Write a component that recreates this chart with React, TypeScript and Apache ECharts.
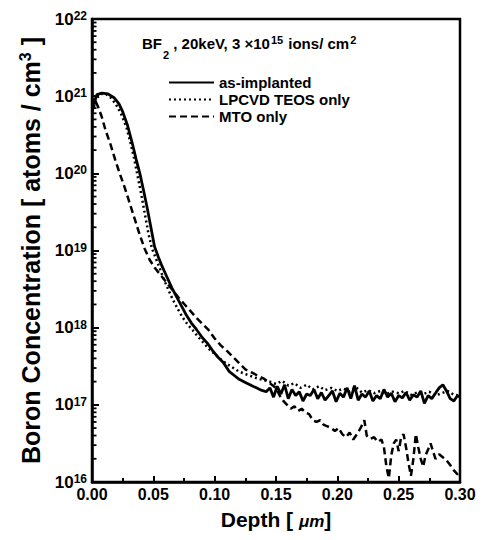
import React, { useEffect, useRef } from "react";
import * as echarts from "echarts";

// ---- data (depth in µm, concentration as log10(atoms/cm^3)) ----
const asImplantedDepth = [
  0, 0.004, 0.008, 0.013, 0.018, 0.022, 0.025, 0.029, 0.033, 0.036, 0.039, 0.042, 0.045, 0.048, 0.051, 0.054,
  0.057, 0.061, 0.065, 0.069, 0.073, 0.077, 0.081, 0.085, 0.09, 0.094, 0.098, 0.102, 0.107, 0.112, 0.116, 0.12,
  0.125, 0.13, 0.134, 0.138, 0.142,
  0.145, 0.148, 0.151, 0.154, 0.157, 0.16, 0.163, 0.166, 0.169, 0.172, 0.175, 0.178, 0.181, 0.184, 0.187, 0.19,
  0.193, 0.196, 0.199, 0.202, 0.205, 0.208, 0.211, 0.214, 0.217, 0.22, 0.223, 0.226, 0.229, 0.232, 0.235, 0.238,
  0.241, 0.244, 0.247, 0.25, 0.253, 0.256, 0.259, 0.262, 0.265, 0.268, 0.271, 0.274, 0.277, 0.28, 0.283, 0.286,
  0.289, 0.292, 0.295, 0.298, 0.3,
];
const asImplantedLogC = [
  20.85, 21.02, 21.04, 21.03, 20.98, 20.9, 20.8, 20.62, 20.38, 20.18, 20.0, 19.78, 19.55, 19.3, 19.05, 18.92,
  18.8, 18.66, 18.52, 18.4, 18.28, 18.16, 18.06, 17.98, 17.87, 17.8, 17.71, 17.63, 17.55, 17.43, 17.38, 17.33,
  17.29, 17.25, 17.22, 17.19, 17.17,
  17.22, 17.1, 17.24, 17.14, 17.26, 17.08, 17.2, 17.12, 17.17, 17.05,
  17.14, 17.12, 17.2, 17.08, 17.16, 17.06, 17.12, 17.18, 17.04, 17.15,
  17.1, 17.22, 17.08, 17.25, 17.06, 17.14, 17.1, 17.18, 17.05, 17.12,
  17.08, 17.2, 17.1, 17.15, 17.04, 17.12, 17.09, 17.16, 17.06, 17.13,
  17.1, 17.18, 17.02, 17.12, 17.08, 17.15, 17.22, 17.26, 17.18, 17.08,
  17.05, 17.12, 17.1,
];

const lpcvdDepth = [
  0, 0.004, 0.008, 0.012, 0.016, 0.02, 0.024, 0.028, 0.031, 0.034, 0.037, 0.04, 0.043, 0.046, 0.049, 0.052,
  0.055, 0.058, 0.062, 0.066, 0.07, 0.074, 0.078, 0.082, 0.086, 0.09, 0.095, 0.1, 0.105, 0.11, 0.115, 0.12,
  0.125, 0.13, 0.135, 0.14,
  0.145, 0.15, 0.155, 0.16, 0.165, 0.17, 0.175, 0.18, 0.185, 0.19, 0.195, 0.2, 0.205, 0.21, 0.215, 0.22,
  0.225, 0.23, 0.235, 0.24, 0.245, 0.25, 0.255, 0.26, 0.265, 0.27, 0.275, 0.28, 0.285, 0.29, 0.295, 0.3,
];
const lpcvdLogC = [
  20.8, 20.98, 21.03, 21.02, 20.97, 20.88, 20.76, 20.6, 20.42, 20.22, 19.98, 19.74, 19.48, 19.22, 19.02, 18.9,
  18.78, 18.65, 18.5, 18.36, 18.24, 18.13, 18.04, 17.97, 17.89, 17.82, 17.73, 17.66, 17.59, 17.53, 17.48, 17.43,
  17.4, 17.37, 17.34, 17.32,
  17.3, 17.27, 17.31, 17.25, 17.28, 17.22, 17.26, 17.2, 17.24, 17.19, 17.22, 17.18, 17.21, 17.17, 17.23, 17.16,
  17.19, 17.15, 17.18, 17.14, 17.17, 17.15, 17.18, 17.13, 17.16, 17.14, 17.17, 17.12, 17.15, 17.18, 17.13, 17.12,
];

const mtoDepth = [
  0, 0.003, 0.005, 0.008, 0.011, 0.015, 0.019, 0.023, 0.027, 0.031, 0.035, 0.039, 0.043, 0.047, 0.051, 0.055,
  0.059, 0.063, 0.067, 0.071, 0.075, 0.08, 0.085, 0.09, 0.095, 0.1, 0.105, 0.11, 0.115, 0.12, 0.125, 0.13,
  0.135, 0.14,
  0.145, 0.15, 0.153, 0.156, 0.159, 0.162, 0.165, 0.168, 0.171, 0.174, 0.177, 0.18, 0.183, 0.186, 0.189, 0.192,
  0.195, 0.198, 0.201, 0.204, 0.207, 0.21, 0.213, 0.216, 0.219, 0.222, 0.224, 0.227, 0.23, 0.233, 0.236, 0.238,
  0.24, 0.242, 0.244, 0.246, 0.248, 0.25, 0.252, 0.254, 0.256, 0.258, 0.26, 0.262, 0.264, 0.266, 0.268, 0.27,
  0.272, 0.274, 0.276, 0.278, 0.28, 0.283, 0.286, 0.289, 0.292, 0.295, 0.298, 0.3,
];
const mtoLogC = [
  20.8, 20.93, 20.86, 20.73, 20.56, 20.38, 20.17, 19.98, 19.8, 19.6, 19.4, 19.2, 19.02, 18.88, 18.78, 18.7,
  18.62, 18.54, 18.46, 18.38, 18.31, 18.22, 18.13, 18.05, 17.97, 17.86, 17.77, 17.7, 17.62, 17.54, 17.46, 17.42,
  17.38, 17.34,
  17.28, 17.22, 17.12, 17.05, 17.0, 16.95, 16.98, 16.92, 16.95, 16.9,
  16.88, 16.8, 16.78, 16.8, 16.74, 16.72, 16.7, 16.66, 16.7, 16.62,
  16.58, 16.64, 16.55, 16.62, 16.7, 16.8, 16.6, 16.56, 16.58, 16.52,
  16.55, 16.45, 16.2, 16.05, 16.35, 16.5, 16.55, 16.4, 16.58, 16.62,
  16.45, 16.25, 16.08, 16.3, 16.62, 16.45, 16.3, 16.2, 16.35, 16.42,
  16.5, 16.4, 16.3, 16.36, 16.32, 16.28, 16.22, 16.15, 16.1, 16.12,
];

const seriesNames = ["as-implanted", "LPCVD TEOS only", "MTO only"];
const xTickStep = 0.05;
const yExponents = [16, 17, 18, 19, 20, 21, 22];
const minorMultipliers = [2, 3, 4, 5, 6, 7, 8, 9];

const FONT = "Liberation Sans";

function toPairs(depth: number[], logC: number[]) {
  return depth.map((d, i) => [d, Math.pow(10, logC[i])]);
}

export default function App() {
  const ref = useRef<HTMLDivElement>(null);

  useEffect(() => {
    if (!ref.current) return;
    const chart = echarts.init(ref.current, null, { renderer: "svg" });

    const yMinor: number[][] = [];
    yExponents.slice(0, -1).forEach((e) => {
      minorMultipliers.forEach((m) => yMinor.push([0, m * Math.pow(10, e)]));
    });

    const option: any = {
      animation: false,
      backgroundColor: "#fff",
      textStyle: { fontFamily: FONT, color: "#000" },
      grid: {
        left: 92,
        right: 27,
        top: 19,
        bottom: 58,
        show: true,
        borderColor: "#000",
        borderWidth: 2.5,
        backgroundColor: "transparent",
      },
      legend: {
        data: seriesNames,
        orient: "vertical",
        left: 163,
        top: 70,
        itemWidth: 45,
        itemHeight: 14,
        itemGap: 2,
        itemStyle: { opacity: 0 },
        textStyle: { fontFamily: FONT, fontSize: 15, fontWeight: "bold", color: "#000" },
      },
      graphic: [
        {
          type: "text",
          x: 142,
          y: 43,
          style: {
            text: "{a|BF}{sub|2}{a| , 20keV, 3 \u00d710}{sup|15}{a| ions/ cm}{sup|2}",
            verticalAlign: "middle",
            fill: "#000",
            rich: {
              a: { fontFamily: FONT, fontSize: 15, fontWeight: "bold", fill: "#000", lineHeight: 18 },
              sub: { fontFamily: FONT, fontSize: 11, fontWeight: "bold", fill: "#000", verticalAlign: "bottom", lineHeight: 18, padding: [0, 0, -8, 1] },
              sup: { fontFamily: FONT, fontSize: 11, fontWeight: "bold", fill: "#000", verticalAlign: "top", lineHeight: 18, padding: [0, 1, 6, 1] },
            },
          },
        },
      ],
      xAxis: {
        type: "value",
        min: 0,
        max: 0.3,
        interval: xTickStep,
        splitLine: { show: false },
        axisLine: { show: true, onZero: false, lineStyle: { color: "#000", width: 2.5 } },
        axisTick: { show: true, inside: true, length: 6, lineStyle: { color: "#000", width: 2 } },
        minorTick: { show: true, splitNumber: 2, length: 4, lineStyle: { color: "#000", width: 2 } },
        axisLabel: {
          formatter: (v: number) => v.toFixed(2),
          fontFamily: FONT,
          fontSize: 16,
          fontWeight: "bold",
          color: "#000",
          margin: 4,
        },
        name: "{a|Depth [ }{u|\u03bcm}{a|]}",
        nameLocation: "middle",
        nameGap: 27,
        nameTextStyle: {
          rich: {
            a: { fontFamily: FONT, fontSize: 21, fontWeight: "bold", color: "#000" },
            u: { fontFamily: FONT, fontSize: 17, fontWeight: "bold", fontStyle: "italic", color: "#000", padding: [4, 0, 0, 0] },
          },
        },
      },
      yAxis: {
        type: "log",
        logBase: 10,
        min: 1e16,
        max: 1e22,
        splitLine: { show: false },
        axisLine: { show: true, lineStyle: { color: "#000", width: 2.5 } },
        axisTick: { show: true, inside: true, length: 7, lineStyle: { color: "#000", width: 2 } },
        axisLabel: {
          formatter: (v: number) => `{b|10}{s|${Math.round(Math.log10(v))}}`,
          margin: 5,
          rich: {
            b: { fontFamily: FONT, fontSize: 17, fontWeight: "bold", color: "#000", lineHeight: 18 },
            s: { fontFamily: FONT, fontSize: 12, fontWeight: "bold", color: "#000", verticalAlign: "top", lineHeight: 18, padding: [0, 0, 6, 0] },
          },
        },
        name: "{a|Boron Concentration [ atoms / cm}{s|3}{a| ]}",
        nameLocation: "middle",
        nameGap: 45,
        nameTextStyle: {
          rich: {
            a: { fontFamily: FONT, fontSize: 25, fontWeight: "bold", color: "#000", lineHeight: 27 },
            s: { fontFamily: FONT, fontSize: 16, fontWeight: "bold", color: "#000", verticalAlign: "top", lineHeight: 27, padding: [0, 0, 8, 0] },
          },
        },
      },
      series: [
        {
          name: seriesNames[0],
          type: "line",
          data: toPairs(asImplantedDepth, asImplantedLogC),
          symbol: "none",
          lineStyle: { color: "#000", width: 2.8, type: "solid" },
          itemStyle: { color: "#000" },
          z: 4,
        },
        {
          name: seriesNames[1],
          type: "line",
          data: toPairs(lpcvdDepth, lpcvdLogC),
          symbol: "none",
          lineStyle: { color: "#000", width: 2.5, type: [2, 3] },
          itemStyle: { color: "#000" },
          z: 3,
        },
        {
          name: seriesNames[2],
          type: "line",
          data: toPairs(mtoDepth, mtoLogC),
          symbol: "none",
          lineStyle: { color: "#000", width: 2.5, type: [7, 4] },
          itemStyle: { color: "#000" },
          z: 3,
        },
        {
          type: "custom",
          silent: true,
          clip: false,
          data: yMinor,
          z: 6,
          renderItem: (_params: any, api: any) => {
            const p = api.coord([0, api.value(1)]);
            return {
              type: "line",
              shape: { x1: p[0], y1: p[1], x2: p[0] + 4.5, y2: p[1] },
              style: { stroke: "#000", lineWidth: 1.8 },
            };
          },
        },
      ],
    };

    chart.setOption(option);
    return () => chart.dispose();
  }, []);

  return <div ref={ref} style={{ width: 487, height: 540, position: "absolute", left: 0, top: 0 }} />;
}
